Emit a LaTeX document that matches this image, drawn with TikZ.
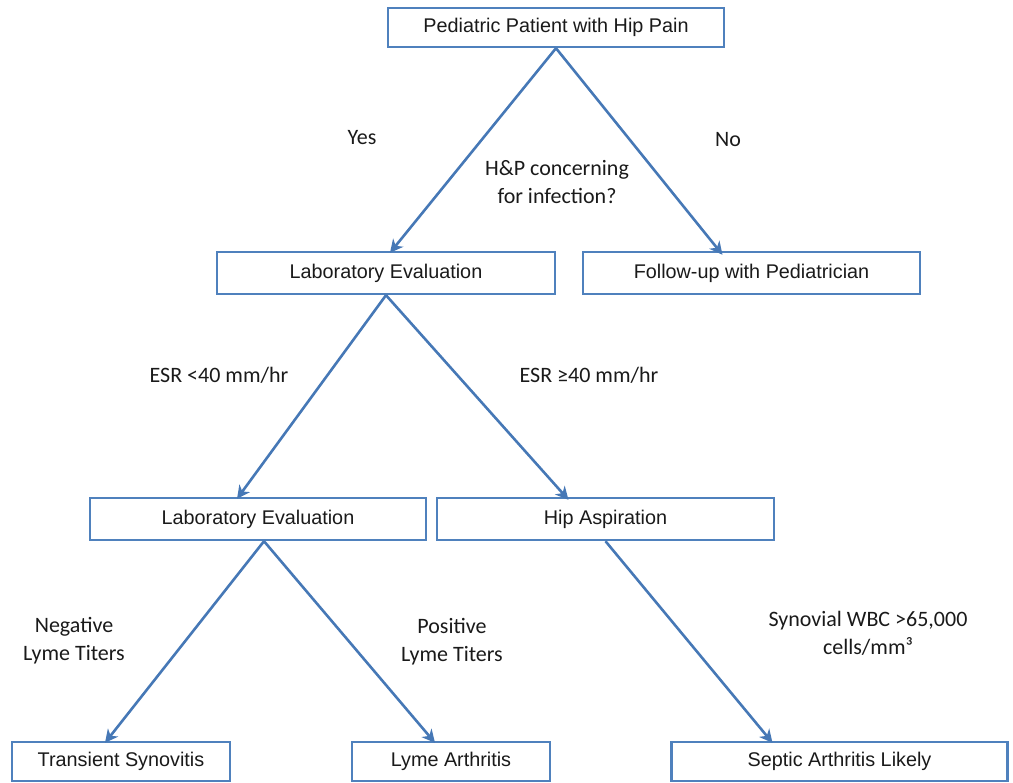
\documentclass[tikz,border=0pt]{standalone}
\usepackage{fontspec}
\setmainfont{Liberation Sans}
\newfontfamily\lblfont{Carlito}
\usetikzlibrary{arrows.meta}
\definecolor{boxblue}{RGB}{79,129,189}
\definecolor{arrblue}{RGB}{70,120,182}
\definecolor{txt}{RGB}{26,26,26}
\tikzset{
  flowbox/.style={draw=boxblue, line width=2.4pt, fill=white, inner sep=0pt,
    text=txt, font=\fontsize{19.8}{23}\selectfont},
  conn/.style={draw=arrblue, line width=2.6pt,
    -{Stealth[length=13pt,width=13pt,inset=4pt]}},
  lbl/.style={text=txt, align=center, inner sep=0pt,
    font=\lblfont\fontsize{22}{28}\selectfont}
}
\begin{document}
\begin{tikzpicture}[x=1pt,y=-1pt]
\useasboundingbox (0,0) rectangle (1013,783);
% boxes
\node[flowbox, minimum width=336pt, minimum height=39pt] (top) at (556,27.5) {Pediatric Patient with Hip Pain};
\node[flowbox, minimum width=338pt, minimum height=42pt] (lab1) at (386,273) {Laboratory Evaluation};
\node[flowbox, minimum width=337pt, minimum height=42pt] (follow) at (751.5,273) {Follow-up with Pediatrician};
\node[flowbox, minimum width=336pt, minimum height=42pt] (lab2) at (258,519) {Laboratory Evaluation};
\node[flowbox, minimum width=337pt, minimum height=42pt] (hip) at (605.5,519) {Hip Aspiration};
\node[flowbox, minimum width=218pt, minimum height=39pt] (trans) at (121,761.5) {Transient Synovitis};
\node[flowbox, minimum width=198pt, minimum height=39pt] (lyme) at (451,761.5) {Lyme Arthritis};
\node[flowbox, minimum width=336pt, minimum height=39pt] (septic) at (839.5,761.5) {Septic Arthritis Likely};
% connectors
\draw[conn] (top.south) -- ([xshift=4pt,yshift=-2pt]lab1.north);
\draw[conn] (top.south) -- ([xshift=-29pt,yshift=-4pt]follow.north);
\draw[conn] (lab1.south) -- ([xshift=-21pt,yshift=-2pt]lab2.north);
\draw[conn] (lab1.south) -- ([xshift=-37pt,yshift=-3pt]hip.north);
\draw[conn] ([xshift=6pt]lab2.south) -- ([xshift=-16pt,yshift=-2pt]trans.north);
\draw[conn] ([xshift=6pt]lab2.south) -- ([xshift=-16pt,yshift=-2pt]lyme.north);
\draw[conn] (hip.south) -- ([xshift=-67pt,yshift=-2pt]septic.north);
% labels
\node[lbl] (yes) at (362,138) {Yes};
\node[lbl] (no) at (728,140) {No};
\node[lbl] (hp) at (557,182) {H\&P concerning\\for infection?};
\node[lbl] (esrlo) at (219,375) {ESR <40 mm/hr};
\node[lbl] (esrhi) at (589,375) {ESR ≥40 mm/hr};
\node[lbl] (neg) at (74,641) {Negative\\Lyme Titers};
\node[lbl] (pos) at (452,642) {Positive\\Lyme Titers};
\node[lbl] (syn) at (868,633) {Synovial WBC >65,000\\cells/mm³};
\end{tikzpicture}
\end{document}
